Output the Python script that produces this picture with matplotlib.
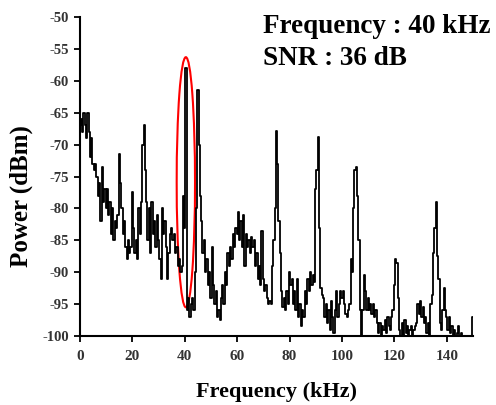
import numpy as np
import matplotlib
matplotlib.use("Agg")
import matplotlib.pyplot as plt
from matplotlib.patches import Ellipse

# Spectrum sampled every 0.5 kHz from 0 to 150 kHz (dBm)
freq_step_khz = 0.5
power_dbm = [
    -67, -66, -68, -65, -67, -69, -65, -68, -72, -69,
    -73, -74, -73, -75, -78, -76, -82, -73.5, -79, -77,
    -80, -77, -81, -79, -84, -80, -85, -82, -83, -81,
    -71.5, -76, -80, -84, -82, -86, -88, -85, -87, -86,
    -77.5, -83, -87, -85, -88, -80, -84, -79, -70, -67,
    -74, -79, -85, -80, -87, -79, -84, -82, -86, -81,
    -85, -88, -91, -80, -84, -82, -86, -91, -87, -84,
    -83, -85, -84, -87, -86, -89, -88, -90, -89, -78,
    -83, -58, -96, -94, -97, -95, -94, -96, -90, -80,
    -61.5, -70, -78, -82, -87, -85, -90, -88, -92, -90,
    -94, -86, -92, -95, -93, -97, -96, -97.5, -94, -92,
    -95, -90, -92, -87, -89, -86, -88, -84, -86, -83,
    -84, -80.5, -85, -82, -86, -81, -89, -84, -86, -85,
    -87, -84.5, -86, -85, -89, -87, -91, -89, -92, -83.5,
    -91, -93, -92, -94, -95, -94.5, -95, -89, -85, -80,
    -67.8, -73, -82, -87, -93, -95.5, -94, -96, -93, -95,
    -90, -92, -91, -95, -93, -96, -91, -97, -95, -98.5,
    -96, -97, -93, -95, -91, -93, -90, -92, -90.5, -91.5,
    -77, -74, -68.8, -83, -92.5, -93.5, -94, -97, -95, -98,
    -96, -99, -94.5, -97, -99.5, -96, -93, -97, -95, -93,
    -94, -93, -95, -96.5, -97, -96, -95, -88, -90, -80,
    -74, -73.5, -78, -85, -96, -100, -96, -90.5, -93, -96,
    -94, -96, -95, -96.5, -95, -97, -96, -98, -99.5, -98,
    -100, -98.5, -99, -97.5, -99.5, -97, -98.5, -99, -97, -96,
    -92, -88, -88.5, -94, -99, -100, -98, -100, -97.5, -99.5,
    -98.5, -100, -99, -98.5, -100, -99, -98.5, -98, -95, -96.5,
    -94.5, -97, -95.5, -98, -97, -99.5, -98, -100, -95, -93.5,
    -87, -83, -79, -87.5, -91, -98, -99, -96, -92.5, -96,
    -97, -99, -97, -99.5, -98.5, -100, -99, -100, -99.5, -98.5,
    -100, -99.5, -100, -100, -100, -100, -100, -100, -100, -100,
    -97,
]
freq_khz = np.arange(len(power_dbm)) * freq_step_khz

x_ticks = [0, 20, 40, 60, 80, 100, 120, 140]
y_ticks = [-100, -95, -90, -85, -80, -75, -70, -65, -60, -55, -50]
annot_lines = ["Frequency : 40 kHz", "SNR : 36 dB"]

plt.rcParams['font.family'] = ['Liberation Serif', 'DejaVu Serif']

fig = plt.figure(figsize=(4.96, 4.05), dpi=100)
ax = fig.add_axes([80/496, 69/405, 393/496, 319/405])

ax.plot(freq_khz, power_dbm, color='black', lw=1.3, drawstyle='steps-mid')

ell = Ellipse((40.4, -75.9), width=7.0, height=39.2, fill=False,
              edgecolor='red', lw=1.5)
ax.add_patch(ell)

ax.set_xlim(0, 150)
ax.set_ylim(-100, -50)
ax.set_xticks(x_ticks)
ax.set_yticks(y_ticks)
ax.set_xticklabels([str(t) for t in x_ticks], fontsize=11, fontweight='bold', color='#333333')
ax.set_yticklabels([str(t) for t in y_ticks], fontsize=10.5, fontweight='bold', color='#333333')
for s in ['top', 'right']:
    ax.spines[s].set_visible(False)
for s in ['left', 'bottom']:
    ax.spines[s].set_linewidth(1.5)
ax.tick_params(axis='x', direction='out', length=4, width=1.3, pad=6)
ax.tick_params(axis='y', direction='out', length=4, width=1.3, pad=4)

fig.text(21/496, (405-196)/405, "Power (dBm)", rotation=90, ha='center', va='center',
         fontsize=18, fontweight='bold')
fig.text(277/496, (405-392)/405, "Frequency (kHz)", ha='center', va='center',
         fontsize=16, fontweight='bold')

fig.text(263/496, (405-33)/405, annot_lines[0], ha='left', va='baseline',
         fontsize=19.5, fontweight='bold')
fig.text(263/496, (405-65)/405, annot_lines[1], ha='left', va='baseline',
         fontsize=19.5, fontweight='bold')

fig.savefig("out.png", dpi=100)
